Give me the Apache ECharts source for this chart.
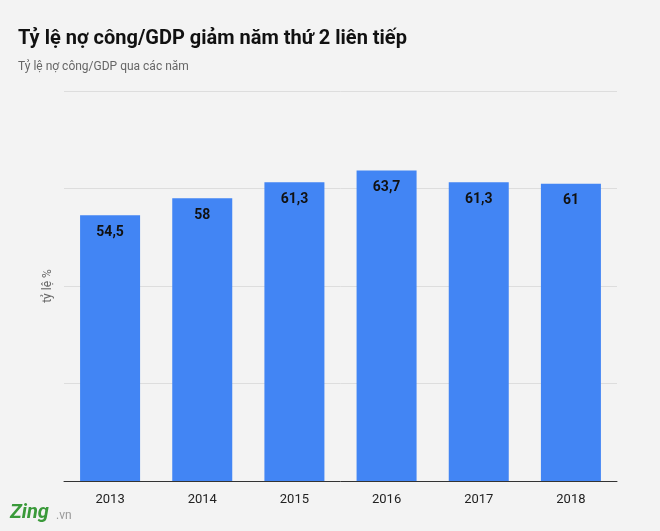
<!DOCTYPE html>
<html style="height: 100%">
<head>
<meta charset="utf-8">
<script src="https://cdn.jsdelivr.net/npm/echarts@6/dist/echarts.min.js"></script>
</head>
<body style="height: 100%; margin: 0; background: #f3f3f3">
<div id="container" style="width: 660px; height: 531px"></div>
<script type="text/javascript">
var years = ['2013', '2014', '2015', '2016', '2017', '2018'];
var ratios = [54.5, 58, 61.3, 63.7, 61.3, 61];

var myChart = echarts.init(document.getElementById('container'));
var option = {
	backgroundColor: '#f3f3f3',
	title: {
		text: 'Tỷ lệ nợ công/GDP giảm năm thứ 2 liên tiếp',
		subtext: 'Tỷ lệ nợ công/GDP qua các năm',
		left: 13, top: 24, itemGap: 12,
		textStyle: { fontFamily: 'Roboto', fontSize: 20, fontWeight: 'bold', color: '#111' },
		subtextStyle: { fontFamily: 'Roboto', fontSize: 12, color: '#666' }
	},
	grid: { left: 64, right: 43, top: 91, bottom: 50 },
	xAxis: {
		type: 'category',
		data: years,
		axisTick: { show: false },
		axisLine: { lineStyle: { color: '#333' } },
		axisLabel: { fontFamily: 'Roboto', fontSize: 13, color: '#222', margin: 12 }
	},
	yAxis: {
		type: 'value', min: 0, max: 80, interval: 20,
		name: 'tỷ lệ %', nameLocation: 'middle', nameGap: 10, nameRotate: 90,
		nameTextStyle: { fontFamily: 'Roboto', fontSize: 12, color: '#666' },
		axisLabel: { show: false },
		splitLine: { lineStyle: { color: '#ddd' } }
	},
	series: [{
		type: 'bar',
		data: ratios,
		barWidth: 60,
		itemStyle: { color: '#4285f4' },
		label: {
			show: true, position: 'insideTop', distance: 10,
			fontFamily: 'Roboto', fontSize: 14, fontWeight: 'bold', color: '#111',
			formatter: function (p) { return String(p.value).replace('.', ','); }
		}
	}],
	graphic: [{
		type: 'text', left: 10, top: 503,
		style: { text: 'Zing', font: 'bold italic 20px Roboto', fill: '#3a9a3a' }
	}, {
		type: 'text', left: 56, top: 510,
		style: { text: '.vn', font: '12px Roboto', fill: '#999' }
	}]
};
myChart.setOption(option);
</script>
</body>
</html>
